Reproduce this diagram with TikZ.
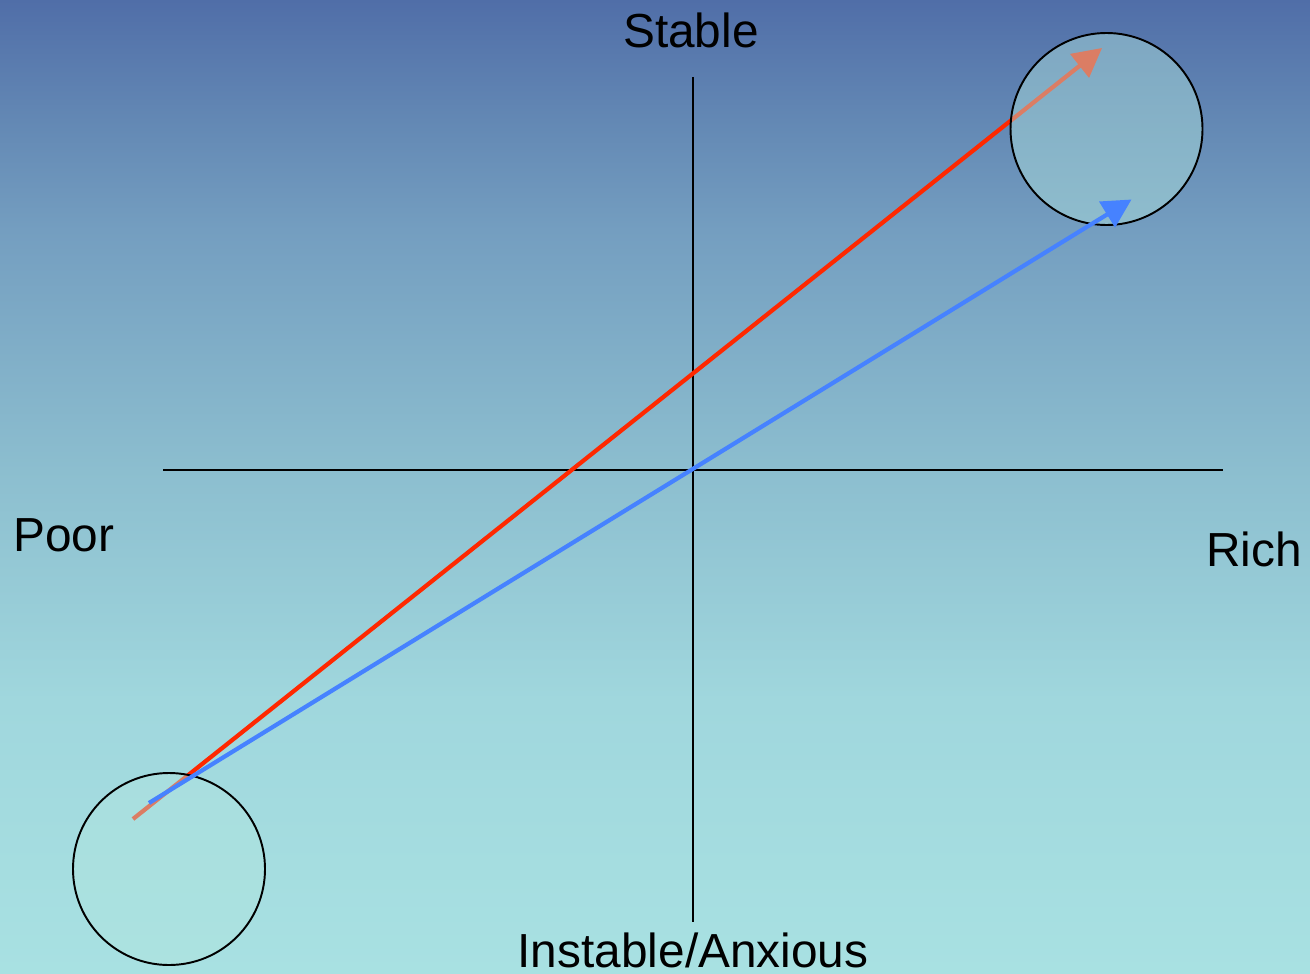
\documentclass[tikz,border=0pt]{standalone}
\usepackage{fontspec}
\setmainfont{Liberation Sans}
\usetikzlibrary{arrows.meta}
\definecolor{redarr}{RGB}{255,40,0}
\definecolor{bluearr}{RGB}{70,130,255}
\definecolor{ringfill}{RGB}{177,229,223}
\pgfdeclareverticalshading{bgshade}{100bp}{%
  rgb(0bp)=(0.659,0.882,0.886);
  rgb(25bp)=(0.659,0.882,0.886);
  rgb(39.03bp)=(0.627,0.843,0.867);
  rgb(50.85bp)=(0.549,0.745,0.812);
  rgb(63.18bp)=(0.455,0.620,0.753);
  rgb(68.83bp)=(0.388,0.533,0.706);
  rgb(75bp)=(0.314,0.431,0.659);
  rgb(100bp)=(0.314,0.431,0.659)}
\tikzset{
  axis/.style={line width=1.1pt, black},
  ring/.style={circle, draw=black, line width=1.1pt, minimum size=192*0.02cm, inner sep=0pt, fill=ringfill, fill opacity=0.45, draw opacity=1},
  arr/.style={line width=2.4pt, -{Triangle[length=0.575cm, width=0.59cm]}},
  lbl/.style={font=\fontsize{27.2pt}{30pt}\selectfont, inner sep=0pt}
}
\begin{document}
\begin{tikzpicture}[x=0.02cm, y=-0.02cm]
\useasboundingbox (0,0) rectangle (1310,973);
\clip (0,0) rectangle (1310,973);
\shade[shading=bgshade] (0,0) rectangle (1310,973);
% axes
\coordinate (hl) at (163,470);
\coordinate (hr) at (1223,470);
\coordinate (vt) at (693,77);
\coordinate (vb) at (693,922);
\draw[axis] (hl) -- (hr);
\draw[axis] (vt) -- (vb);
% red arrow (under circles)
\coordinate (rs) at (133,819);
\coordinate (re) at (1102,48);
\draw[arr, redarr] (rs) -- (re);
% circles
\node[ring] (top) at (1106.5,129) {};
\node[ring] (bot) at (169,869) {};
% blue arrow (over circles)
\coordinate (bs) at (149,803);
\coordinate (be) at (1131.5,199.5);
\draw[arr, bluearr] (bs) -- (be);
% labels
\node[lbl, anchor=base] (stable) at (691,48) {Stable};
\node[lbl, anchor=base west] (poor) at (13,551) {Poor};
\node[lbl, anchor=base east] (rich) at (1302,566) {Rich};
\node[lbl, anchor=base] (instable) at (693,967) {Instable/Anxious};
\end{tikzpicture}
\end{document}
